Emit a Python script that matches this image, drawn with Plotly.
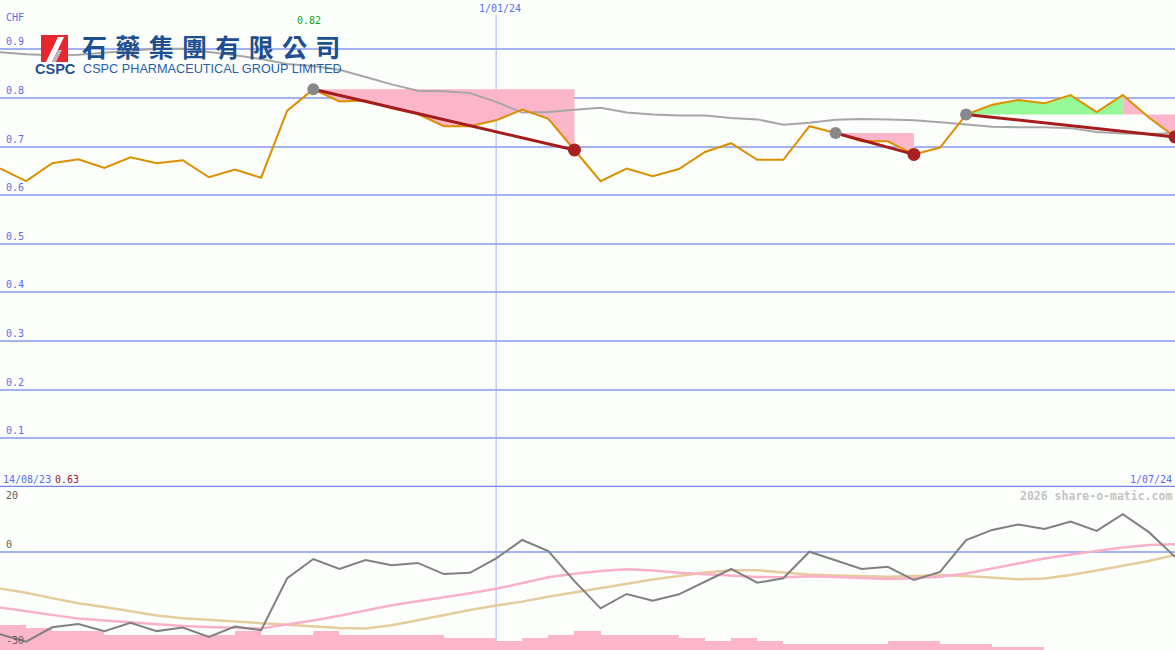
import plotly.graph_objects as go
import pandas as pd

# ---------------- data ----------------
dates = pd.date_range("2023-08-21", periods=46, freq="7D")

price = [0.655, 0.629, 0.666, 0.674, 0.656, 0.678, 0.666, 0.672, 0.637, 0.653,
         0.636, 0.774, 0.818, 0.793, 0.795, 0.779, 0.767, 0.742, 0.742, 0.754,
         0.776, 0.757, 0.693, 0.629, 0.655, 0.639, 0.654, 0.689, 0.707, 0.673,
         0.673, 0.742, 0.728, 0.711, 0.711, 0.684, 0.698, 0.766, 0.786, 0.796,
         0.789, 0.806, 0.771, 0.806, 0.760, 0.720]

moving_avg = [0.894, 0.890, 0.888, 0.889, 0.893, 0.897, 0.901, 0.901, 0.895, 0.888,
              0.880, 0.870, 0.866, 0.858, 0.843, 0.828, 0.815, 0.814, 0.810, 0.792,
              0.770, 0.771, 0.776, 0.780, 0.770, 0.766, 0.764, 0.764, 0.759, 0.756,
              0.745, 0.749, 0.755, 0.757, 0.756, 0.754, 0.750, 0.746, 0.741, 0.740,
              0.740, 0.738, 0.730, 0.727, 0.726, 0.728]

oscillator = [-25.7, -28.0, -23.5, -22.5, -24.7, -22.1, -24.7, -23.6, -26.5, -23.3,
              -24.4, -8.2, -2.2, -5.3, -2.5, -4.1, -3.4, -6.9, -6.5, -2.0,
              3.75, 0.3, -9.1, -17.6, -13.1, -15.2, -13.2, -9.3, -5.3, -9.6,
              -8.2, 0.1, -2.5, -5.3, -4.6, -8.75, -6.2, 3.75, 6.9, 8.6,
              7.2, 9.5, 6.6, 11.8, 6.2, -1.5]

signal_pink = [-17.3, -18.5, -19.8, -20.8, -21.4, -22.0, -22.7, -23.1, -23.4, -23.6,
               -23.9, -22.6, -21.4, -19.9, -18.2, -16.6, -15.4, -14.2, -12.9, -11.5,
               -9.6, -7.9, -6.8, -5.9, -5.4, -5.8, -6.5, -7.0, -7.4, -7.8,
               -7.9, -7.6, -7.8, -8.1, -8.4, -8.2, -7.7, -6.7, -5.1, -3.5,
               -2.0, -0.8, 0.4, 1.4, 2.2, 2.4]

signal_tan = [-11.4, -12.7, -14.4, -16.0, -17.2, -18.6, -19.8, -20.7, -21.2, -21.7,
              -22.3, -22.8, -23.3, -23.7, -23.9, -22.9, -21.3, -19.6, -18.1, -16.7,
              -15.5, -14.0, -12.6, -11.4, -10.0, -8.6, -7.5, -6.4, -5.7, -5.7,
              -6.4, -7.0, -7.3, -7.6, -7.7, -7.5, -7.2, -7.5, -8.1, -8.5,
              -8.3, -7.2, -5.8, -4.4, -2.8, -0.9]

volume = [7.7, 6.8, 5.8, 5.8, 4.6, 4.6, 4.6, 4.6, 4.6, 5.8,
          4.6, 4.6, 5.8, 4.6, 4.6, 4.6, 4.6, 3.8, 3.8, 2.8,
          3.8, 4.6, 5.8, 4.6, 4.6, 4.6, 3.8, 2.8, 3.8, 2.8,
          1.75, 1.75, 1.75, 1.75, 2.8, 2.8, 1.75, 1.75, 0.9, 0.9,
          0, 0, 0, 0, 0, 0]

# trend segments (start index, end index)
segments = [(12, 22), (32, 35), (37, 45)]
green_part = (37, 43)
pink_after = (43, 45)

top_ticks = [0.1, 0.2, 0.3, 0.4, 0.5, 0.6, 0.7, 0.8, 0.9]
top_tick_labels = ["0.1", "0.2", "0.3", "0.4", "0.5", "0.6", "0.7", "0.8", "0.9"]
bottom_ticks = [20, 0, -30]
bottom_tick_labels = ["20", "0", "-30"]

# ---------------- styling ----------------
BG = "#fcfefc"
GRID = "#a4b2f2"
AXIS_DARK = "#7484ea"
TXT_BLUE = "#5b6cf0"
MONO = "DejaVu Sans Mono, monospace"
PINK_FILL = "rgb(252,182,202)"
GREEN_FILL = "rgb(150,248,150)"
PRICE_C = "#dc9000"
MA_C = "#a6a6a6"
TREND_C = "#a41c1c"

fig = go.Figure()


def xs(i0, i1):
    return list(dates[i0:i1 + 1])


def add_fill(i0, i1, level, color):
    x = xs(i0, i1) + xs(i0, i1)[::-1]
    y = price[i0:i1 + 1] + [level] * (i1 - i0 + 1)
    fig.add_trace(go.Scatter(x=x, y=y, fill="toself", fillcolor=color,
                             line=dict(width=0), mode="lines", hoverinfo="skip",
                             xaxis="x", yaxis="y"))


add_fill(segments[0][0], segments[0][1], price[segments[0][0]], PINK_FILL)
add_fill(segments[1][0], segments[1][1], price[segments[1][0]], PINK_FILL)
add_fill(green_part[0], green_part[1], price[segments[2][0]], GREEN_FILL)
add_fill(pink_after[0], pink_after[1], price[segments[2][0]], PINK_FILL)

fig.add_trace(go.Scatter(x=dates, y=moving_avg, mode="lines",
                         line=dict(color=MA_C, width=2), xaxis="x", yaxis="y"))
fig.add_trace(go.Scatter(x=dates, y=price, mode="lines",
                         line=dict(color=PRICE_C, width=2), xaxis="x", yaxis="y"))

for a, b in segments:
    fig.add_trace(go.Scatter(x=[dates[a], dates[b]], y=[price[a], price[b]], mode="lines",
                             line=dict(color=TREND_C, width=3), xaxis="x", yaxis="y"))
for a, b in segments:
    fig.add_trace(go.Scatter(x=[dates[a]], y=[price[a]], mode="markers",
                             marker=dict(color="#888888", size=12), xaxis="x", yaxis="y"))
    fig.add_trace(go.Scatter(x=[dates[b]], y=[price[b]], mode="markers",
                             marker=dict(color="#a82020", size=13), xaxis="x", yaxis="y"))

fig.add_trace(go.Bar(x=dates, y=volume, marker=dict(color=PINK_FILL, line=dict(width=0)),
                     width=7 * 86400000, offset=0, xaxis="x2", yaxis="y2"))
fig.add_trace(go.Scatter(x=dates, y=signal_tan, mode="lines",
                         line=dict(color="#e6cc9c", width=2.5), xaxis="x2", yaxis="y3"))
fig.add_trace(go.Scatter(x=dates, y=signal_pink, mode="lines",
                         line=dict(color="#f9b0c8", width=2.5), xaxis="x2", yaxis="y3"))
fig.add_trace(go.Scatter(x=dates, y=oscillator, mode="lines",
                         line=dict(color="#808080", width=2), xaxis="x2", yaxis="y3"))

split = 163 / 650
xr = [dates[0], dates[-1]]
fig.update_layout(
    width=1175, height=650, margin=dict(l=0, r=0, t=0, b=0),
    paper_bgcolor=BG, plot_bgcolor=BG, showlegend=False, bargap=0,
    xaxis=dict(range=xr, domain=[0, 1], anchor="y", showgrid=False, showticklabels=False,
               zeroline=False, showline=False),
    yaxis=dict(range=[0, 1.0015], domain=[split, 1], anchor="x", tickvals=top_ticks + [1.0],
               showticklabels=False, showgrid=True, gridcolor=GRID, gridwidth=2,
               zeroline=False, showline=False),
    xaxis2=dict(range=xr, domain=[0, 1], anchor="y2", matches="x", showgrid=False,
                showticklabels=False, zeroline=False, showline=False),
    yaxis2=dict(range=[0, 50], domain=[0, split], anchor="x2", showgrid=False,
                showticklabels=False, zeroline=False, showline=False),
    yaxis3=dict(range=[-30.6, 20.3], overlaying="y2", anchor="x2", tickvals=[0],
                showticklabels=False, showgrid=True, gridcolor=GRID, gridwidth=2,
                zeroline=False, showline=False),
)


def px_x(p):
    return p / 1175


def px_y(p):
    return 1 - p / 650


shapes = [
    dict(type="line", xref="x", yref="paper", x0="2024-01-01", x1="2024-01-01",
         y0=0, y1=px_y(15), line=dict(color=GRID, width=1), layer="below"),
    dict(type="line", xref="paper", yref="y", x0=0, x1=1, y0=0, y1=0,
         line=dict(color=AXIS_DARK, width=2.5)),
    dict(type="rect", xref="paper", yref="paper", x0=px_x(41), x1=px_x(68),
         y0=px_y(62), y1=px_y(35), fillcolor="#e8262d", line=dict(width=0)),
    dict(type="path", xref="paper", yref="paper",
         path=f"M {px_x(46)} {px_y(62)} L {px_x(52)} {px_y(62)} L {px_x(64)} {px_y(37)} L {px_x(58)} {px_y(37)} Z",
         fillcolor="#ffffff", line=dict(width=0)),
    dict(type="path", xref="paper", yref="paper",
         path=f"M {px_x(52)} {px_y(62)} L {px_x(56)} {px_y(62)} L {px_x(62)} {px_y(50)} L {px_x(58)} {px_y(50)} Z",
         fillcolor="#b8b8c0", line=dict(width=0)),
]
fig.update_layout(shapes=shapes)

ann = []
for v, t in zip(top_ticks, top_tick_labels):
    ann.append(dict(xref="paper", yref="y", x=px_x(4), y=v, text=t, showarrow=False,
                    xanchor="left", yanchor="bottom",
                    font=dict(family=MONO, size=10, color=TXT_BLUE)))
for v, t in zip(bottom_ticks, bottom_tick_labels):
    ann.append(dict(xref="paper", yref="y3", x=px_x(4), y=v, text=t, showarrow=False,
                    xanchor="left", yanchor="top" if v == 20 else "bottom",
                    font=dict(family=MONO, size=10, color="#606060")))

logo_cn = "\u2004".join("石藥集團有限公司")
ann += [
    dict(xref="paper", yref="paper", x=px_x(4), y=px_y(18), text="CHF", showarrow=False,
         xanchor="left", yanchor="middle", font=dict(family=MONO, size=10, color=TXT_BLUE)),
    dict(xref="x", yref="paper", x=dates[12], y=px_y(21), text="0.82", showarrow=False,
         xanchor="center", yanchor="middle", xshift=-4,
         font=dict(family=MONO, size=10, color="#20a020")),
    dict(xref="x", yref="paper", x="2024-01-01", y=px_y(9), text="1/01/24", showarrow=False,
         xanchor="center", yanchor="middle", xshift=4,
         font=dict(family=MONO, size=10, color=TXT_BLUE)),
    dict(xref="paper", yref="paper", x=px_x(1), y=px_y(479), text="14/08/23", showarrow=False,
         xanchor="left", yanchor="middle", font=dict(family=MONO, size=10, color=TXT_BLUE)),
    dict(xref="paper", yref="paper", x=px_x(53), y=px_y(479), text="0.63", showarrow=False,
         xanchor="left", yanchor="middle", font=dict(family=MONO, size=10, color="#a02020")),
    dict(xref="paper", yref="paper", x=px_x(1174), y=px_y(479), text="1/07/24", showarrow=False,
         xanchor="right", yanchor="middle", font=dict(family=MONO, size=10, color=TXT_BLUE)),
    dict(xref="paper", yref="paper", x=px_x(1174), y=px_y(496), text="<b>2026 share-o-matic.com</b>",
         showarrow=False, xanchor="right", yanchor="middle",
         font=dict(family=MONO, size=11.5, color="#c4c4c4")),
    dict(xref="paper", yref="paper", x=px_x(80), y=px_y(46), text="<b>" + logo_cn + "</b>",
         showarrow=False, xanchor="left", yanchor="middle",
         font=dict(family="Noto Sans CJK TC, Noto Sans CJK SC", size=25, color="#1e4f90")),
    dict(xref="paper", yref="paper", x=px_x(33), y=px_y(69), text="<b>CSPC</b>",
         showarrow=False, xanchor="left", yanchor="middle",
         font=dict(family="Liberation Sans, Arial", size=14.5, color="#1e4f90")),
    dict(xref="paper", yref="paper", x=px_x(81), y=px_y(69), text="CSPC PHARMACEUTICAL GROUP LIMITED",
         showarrow=False, xanchor="left", yanchor="middle",
         font=dict(family="Liberation Sans, Arial", size=12.7, color="#2a5ea6")),
]
fig.update_layout(annotations=ann)

fig.write_html(
    "out.html",
    config={"displayModeBar": False},
    post_script="document.body.style.margin='0';document.body.style.overflow='hidden';",
)
